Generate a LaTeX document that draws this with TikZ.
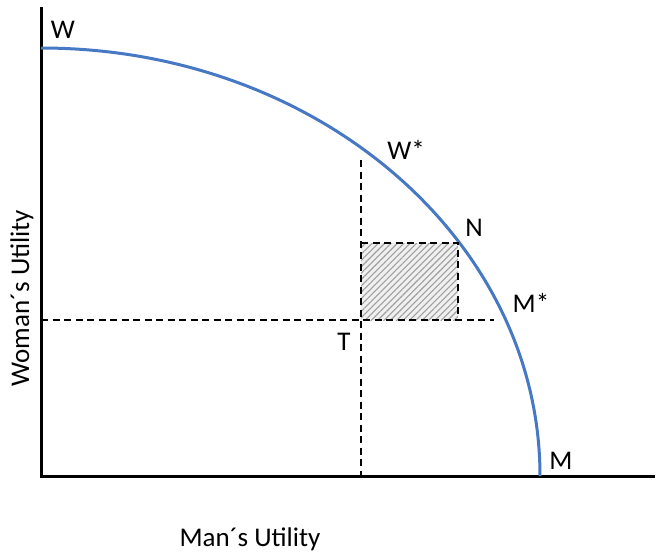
\documentclass[tikz,border=0pt]{standalone}
\usepackage{fontspec}
\setmainfont{Carlito}
\usetikzlibrary{patterns.meta}
\definecolor{curveblue}{RGB}{70,120,195}
\begin{document}
\begin{tikzpicture}[x=1pt,y=-1pt,
  axis/.style={line width=3pt,black},
  frontier/.style={line width=3pt,curveblue},
  guide/.style={line width=1.5pt,dash pattern=on 7pt off 4.5pt},
  lbl/.style={font=\fontsize{27}{31}\selectfont,inner sep=0pt}]
\useasboundingbox (0,0) rectangle (659,558);
\coordinate (O) at (41,476);
\coordinate (Ytop) at (41,7);
\coordinate (Xend) at (655,476);
\draw[axis] (Ytop) -- (O) -- (Xend);
% frontier: quarter ellipse
\draw[frontier] (41,48) arc[start angle=90,end angle=0,x radius=499,y radius=-428];
% shaded rectangle
\coordinate (N) at (458,243);
\coordinate (T) at (361,320);
\fill[gray!12] (T) rectangle (N);
\fill[pattern={Lines[angle=45,distance=4.5pt,line width=1.1pt]},pattern color=gray!75] (T) rectangle (N);
\draw[guide] (361,160) -- (361,476);
\draw[guide] (41,320) -- (494,320);
\draw[guide] (361,243) -- (N) -- (458,320);
% labels
\node[lbl] (lW) at (63,30) {W};
\node[lbl] (lWs) at (406,150) {W*};
\node[lbl] (lN) at (474,228) {N};
\node[lbl] (lMs) at (531,303) {M*};
\node[lbl] (lT) at (344,342) {T};
\node[lbl] (lM) at (561,461) {M};
\node[lbl,rotate=90] (ylab) at (22,298) {Woman´s Utility};
\node[lbl] (xlab) at (250,539) {Man´s Utility};
\end{tikzpicture}
\end{document}
